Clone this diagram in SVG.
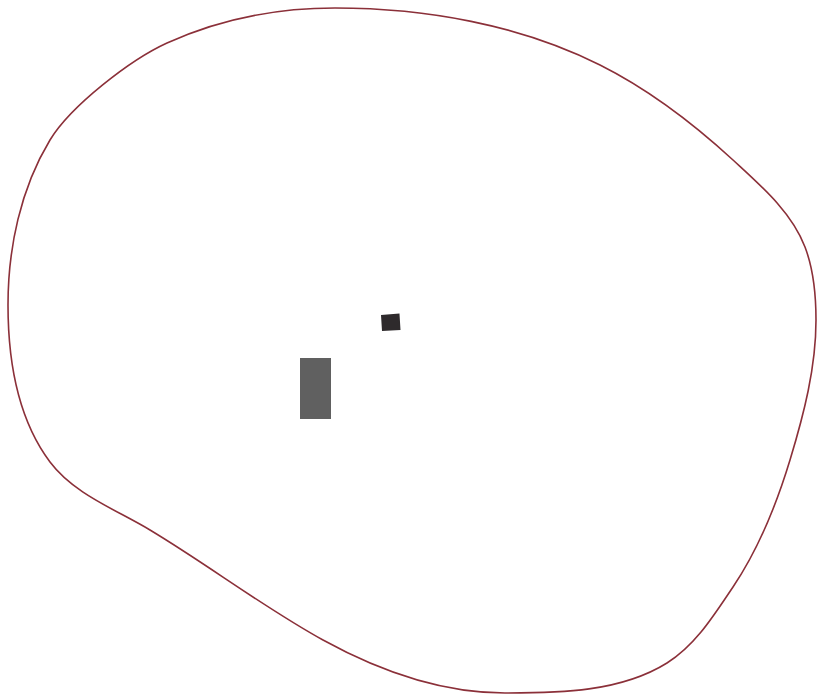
<svg xmlns="http://www.w3.org/2000/svg" width="817" height="697" viewBox="0 0 817 697">
  <style>
    .outline { fill: none; stroke: #8b3039; stroke-width: 1.6; }
    .block { fill: #606060; }
    .dark { fill: #2e2a2c; }
  </style>
  <rect width="817" height="697" fill="#ffffff"/>
  <g id="boundary">
    <path class="outline" d="M335,8 C425.3,8 519.3,24.6 600,65 C648.7,89.4 692.9,123.1 733,160 C760.7,185.5 791.5,211.9 805,247 C813.8,270 816,295.4 816,320 C816,367.5 803.8,414.5 790,460 C776.5,504.4 759,548.5 733,587 C714.2,614.9 695.6,645.2 667,663 C620.3,692.1 559.9,693 505,693 C441.8,693 378.4,670.5 323,640 C263.2,607.1 208.5,565.1 150,530 C115.5,509.3 74.2,494.2 50,462 C17.5,418.6 8,359.2 8,305 C8,248.2 20.5,188.6 50,140 C70.8,105.8 130.6,59.6 167,43 C219.1,19.3 277.8,8 335,8 Z"/>
  </g>
  <g id="block-large">
    <rect class="block" x="300" y="358" width="31" height="61"/>
  </g>
  <g id="block-small">
    <polygon class="dark" points="381,315 399.5,313.5 400.5,330 382,331"/>
  </g>
  <g id="connectors"></g>
</svg>
